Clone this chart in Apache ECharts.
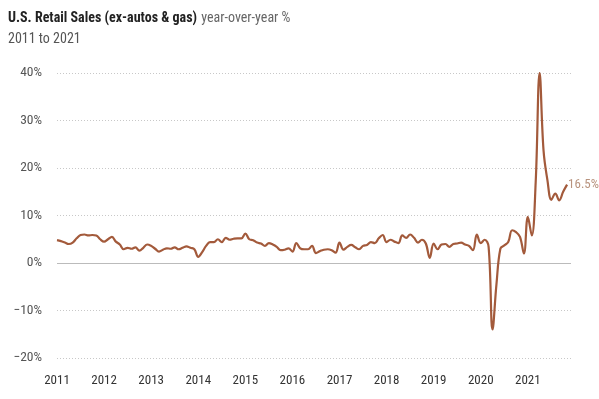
<!DOCTYPE html>
<html>
<head>
<meta charset="utf-8">
<script src="https://cdn.jsdelivr.net/npm/echarts@6/dist/echarts.min.js"></script>
<style>
  html, body { margin: 0; padding: 0; background: #fff; }
  #chart { width: 599px; height: 399px; }
</style>
</head>
<body>
<div id="chart"></div>
<script>
// year-over-year % change, monthly, Jan 2011 - Nov 2021
var years = [2011, 2012, 2013, 2014, 2015, 2016, 2017, 2018, 2019, 2020, 2021];
var s2011 = [4.8, 4.6, 4.3, 4.0, 4.3, 5.2, 5.9, 6.0, 5.8, 5.9, 5.8, 5.0];
var s2012 = [4.5, 5.0, 5.5, 4.5, 3.9, 2.9, 3.2, 3.0, 3.3, 2.6, 3.2, 3.9];
var s2013 = [3.6, 3.0, 2.4, 2.8, 3.1, 3.0, 3.3, 2.9, 3.2, 3.5, 3.2, 2.9];
var s2014 = [1.3, 2.3, 3.6, 4.4, 4.4, 5.0, 4.4, 5.3, 4.9, 5.1, 5.2, 5.2];
var s2015 = [6.2, 5.0, 4.8, 4.3, 4.1, 3.6, 4.2, 3.9, 3.4, 2.7, 2.8, 3.1];
var s2016 = [2.4, 4.2, 3.1, 2.9, 2.9, 3.6, 2.1, 2.5, 2.8, 2.9, 2.7, 2.2];
var s2017 = [4.3, 2.8, 3.4, 3.8, 3.3, 2.9, 3.6, 3.8, 4.4, 4.2, 5.2, 5.9];
var s2018 = [4.4, 4.9, 4.5, 4.2, 5.8, 5.3, 6.0, 5.3, 4.3, 4.9, 4.1, 1.1];
var s2019 = [4.1, 2.9, 3.9, 4.0, 3.4, 4.0, 4.1, 4.3, 3.9, 3.6, 2.7, 6.0];
var s2020 = [4.2, 4.9, 3.4, -14.0, -4.5, 3.0, 3.7, 4.4, 6.9, 6.5, 5.5, 2.0];
var s2021 = [9.7, 5.8, 17.0, 40.0, 23.7, 17.4, 13.3, 14.6, 13.2, 15.0, 16.5];

var yTicks = { min: -20, max: 40, step: 10 };

var values = [].concat(s2011, s2012, s2013, s2014, s2015, s2016, s2017, s2018, s2019, s2020, s2021);
var months = [];
years.forEach(function (y) {
    for (var m = 1; m <= 12; m++) {
        months.push(y + '-' + (m < 10 ? '0' + m : m));
    }
});

var font = "'Liberation Sans Narrow', 'Arial Narrow', 'Roboto Condensed', Roboto, sans-serif";

var myChart = echarts.init(document.getElementById('chart'));

var option = {
    animation: false,
    textStyle: { fontFamily: font },
    title: {
        left: 3,
        top: 4,
        itemGap: 5,
        text: '{b|U.S. Retail Sales (ex-autos & gas)} {n|year-over-year %}',
        textStyle: {
            fontWeight: 'normal',
            rich: {
                b: { fontFamily: font, fontSize: 14, fontWeight: 'bold', color: '#222' },
                n: { fontFamily: font, fontSize: 14, fontWeight: 'normal', color: '#666' }
            }
        },
        subtext: '2011 to 2021',
        subtextStyle: { fontFamily: font, fontSize: 14, color: '#555' }
    },
    grid: {
        left: 57,
        right: 28,
        top: 73,
        bottom: 41
    },
    xAxis: {
        type: 'category',
        boundaryGap: false,
        data: months,
        axisLine: { show: false },
        axisTick: { show: false },
        splitLine: { show: false },
        axisLabel: {
            interval: 11,
            margin: 16,
            fontSize: 13,
            color: '#333',
            formatter: function (v) { return v.slice(0, 4); }
        }
    },
    yAxis: {
        type: 'value',
        min: yTicks.min,
        max: yTicks.max,
        interval: yTicks.step,
        axisLine: { show: false },
        axisTick: { show: false },
        axisLabel: {
            margin: 15,
            fontSize: 13.5,
            color: '#555',
            formatter: function (v) {
                return v < 0 ? '\u2212' + (-v) + '%' : v + '%';
            }
        },
        splitLine: {
            lineStyle: { color: '#c8c8c8', type: [1, 2], width: 1 }
        }
    },
    series: [{
        type: 'line',
        data: values,
        smooth: 0.4,
        showSymbol: false,
        lineStyle: { color: '#a35a3b', width: 2.2 },
        itemStyle: { color: '#a35a3b' },
        endLabel: {
            show: true,
            distance: 1,
            fontSize: 13,
            color: '#b8937e',
            formatter: function (p) { return p.value + '%'; }
        },
        markLine: {
            silent: true,
            symbol: 'none',
            label: { show: false },
            lineStyle: { color: '#bbb', type: 'solid', width: 1 },
            data: [{ yAxis: 0 }]
        },
        z: 5
    }]
};

myChart.setOption(option);

window.addEventListener("resize", function () {
    myChart.resize();
});
</script>
</body>
</html>
